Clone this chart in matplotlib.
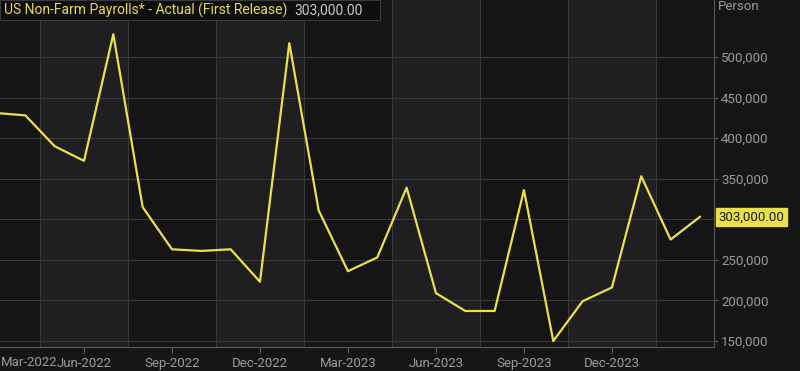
import matplotlib
matplotlib.use("Agg")
import matplotlib.pyplot as plt
import numpy as np
from matplotlib.patches import Rectangle

# Data: US Non-Farm Payrolls, first release, by reference month
months = ["Mar-2022", "Apr-2022", "May-2022", "Jun-2022", "Jul-2022", "Aug-2022",
          "Sep-2022", "Oct-2022", "Nov-2022", "Dec-2022", "Jan-2023", "Feb-2023",
          "Mar-2023", "Apr-2023", "May-2023", "Jun-2023", "Jul-2023", "Aug-2023",
          "Sep-2023", "Oct-2023", "Nov-2023", "Dec-2023", "Jan-2024", "Feb-2024",
          "Mar-2024"]
payrolls = [431000, 428000, 390000, 372000, 528000, 315000,
            263000, 261000, 263000, 223000, 517000, 311000,
            236000, 253000, 339000, 209000, 187000, 187000,
            336000, 150000, 199000, 216000, 353000, 275000,
            303000]
x_tick_labels = ["Mar-2022", "Jun-2022", "Sep-2022", "Dec-2022", "Mar-2023",
                 "Jun-2023", "Sep-2023", "Dec-2023"]
y_ticks = [150000, 200000, 250000, 350000, 400000, 450000, 500000]
title_text = "US Non-Farm Payrolls* - Actual (First Release)"
last_value_text = "303,000.00"
unit_text = "Person"

plt.rcParams['font.family'] = ['Roboto', 'DejaVu Sans']

BG = "#151515"
BAND = "#1f1e20"
GRID = "#393939"
AXIS = "#5a5a5a"
TXT = "#9c9c9c"
YELLOW = "#ece04a"

fig = plt.figure(figsize=(8.0, 3.71), dpi=100, facecolor=BG)
ax = fig.add_axes([0.0, 24 / 371, 714 / 800, 1 - 24 / 371])
ax.set_facecolor(BG)

x = np.arange(len(payrolls))
ax.set_xlim(0.136, 24.48)
ax.set_ylim(142600, 570200)

# alternating quarter bands and vertical grid lines
tick_idx = [months.index(m) for m in x_tick_labels]
for k, t in enumerate(tick_idx):
    g = t + 1.5
    ax.axvline(g, color=GRID, lw=0.8, zorder=1)
    if k % 2 == 0:
        ax.axvspan(g, g + 3, color=BAND, zorder=0, lw=0)

for v in y_ticks + [300000]:
    ax.axhline(v, color=GRID, lw=0.8, zorder=1)

ax.plot(x, payrolls, color=YELLOW, lw=1.6, zorder=3, solid_joinstyle="round")

# axes styling
for s in ["top", "left"]:
    ax.spines[s].set_visible(False)
ax.spines["right"].set_color(AXIS)
ax.spines["bottom"].set_color(AXIS)
ax.spines["right"].set_linewidth(0.8)
ax.spines["bottom"].set_linewidth(0.8)

ax.yaxis.tick_right()
ax.set_yticks(y_ticks)
ax.set_yticklabels([f"{v:,.0f}" for v in y_ticks])
ax.tick_params(axis="y", colors=AXIS, labelcolor=TXT, labelsize=9.5, length=3,
               width=0.8, pad=2)
ax.set_xticks(tick_idx[1:])
ax.set_xticklabels(x_tick_labels[1:])
ax.tick_params(axis="x", colors=AXIS, labelcolor=TXT, labelsize=9.5, length=4,
               width=0.8, pad=3)
# first label clamped to left edge
fig.text(0.5 / 800, 1 - 362 / 371, x_tick_labels[0], color=TXT, fontsize=9.5,
         ha="left", va="center")

# last value label
yv = payrolls[-1]
ax.annotate(last_value_text, xy=(1.0, yv), xycoords=("axes fraction", "data"),
            xytext=(3.5, 0), textcoords="offset points", ha="left", va="center",
            fontsize=9.5, color="#1a1a1a",
            bbox=dict(boxstyle="square,pad=0.2", fc=YELLOW, ec=YELLOW),
            annotation_clip=False, zorder=5)

# unit label
fig.text(718 / 800, 1 - 7 / 371, unit_text, color=TXT, fontsize=9.5,
         ha="left", va="center")

# title box
fig.patches.append(Rectangle((0, 1 - 20 / 371), 380 / 800, 20 / 371,
                             transform=fig.transFigure, fc="#0e0e0e",
                             ec="#3a3a3a", lw=0.8, zorder=10))
t1 = fig.text(4 / 800, 1 - 10 / 371, title_text, color="#e9dc4a", fontsize=10,
              ha="left", va="center", zorder=11)
fig.canvas.draw()
bb = t1.get_window_extent()
fig.text((bb.x1 + 7) / 800, 1 - 10 / 371, last_value_text, color="#c8c8c8",
         fontsize=10, ha="left", va="center", zorder=11)

fig.savefig("out.png", dpi=100, facecolor=BG)
